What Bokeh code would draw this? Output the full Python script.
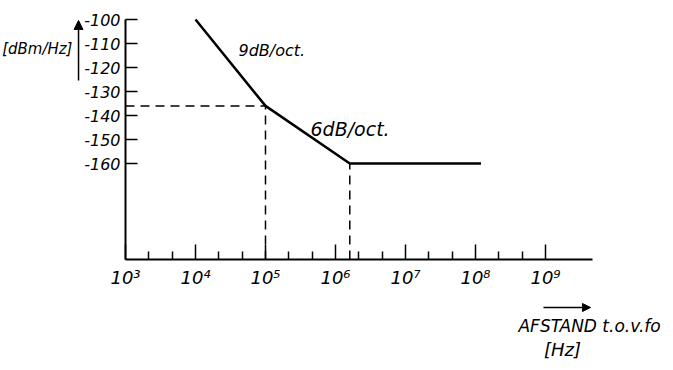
from bokeh.plotting import figure
from bokeh.models import Range1d, FixedTicker, Label, Arrow, NormalHead
from bokeh.embed import file_html
from bokeh.resources import INLINE

# ---- data ----
curve_x = [1.0e4, 1.0e5, 1.6e6, 1.2e8]
curve_y = [-100, -136, -160, -160]
x_major = [1e3, 1e4, 1e5, 1e6, 1e7, 1e8, 1e9]
x_minor = [2.15e3, 4.64e3, 2.15e4, 4.64e4, 2.15e5, 4.64e5, 2.15e6, 4.64e6,
           2.15e7, 4.64e7, 2.15e8, 4.64e8]
x_labels = {1e3: "10³", 1e4: "10⁴", 1e5: "10⁵", 1e6: "10⁶", 1e7: "10⁷", 1e8: "10⁸", 1e9: "10⁹"}
y_ticks = [-160, -150, -140, -130, -120, -110, -100]
y_labels = {-160: "-160", -150: "-150", -140: "-140", -130: "-130",
            -120: "-120", -110: "-110", -100: "-100"}
x_axis_start, x_axis_end = 1e3, 10**9.67
y_bottom, y_top = -200, -100
# dashed guide lines (corner points)
guide_h_x = [x_axis_start, 1.0e5]
guide_h_y = [-136, -136]
guide_v1_x = [1.0e5, 1.0e5]
guide_v1_y = [y_bottom, -136]
guide_v2_x = [1.6e6, 1.6e6]
guide_v2_y = [y_bottom, -160]

FONT = "DejaVu Sans"

# frame spans the whole canvas; axes are placed at fixed data locations
p = figure(width=673, height=370, x_axis_type="log",
           x_range=Range1d(10**1.2143, 10**10.8286), y_range=Range1d(-246.25, -92.083),
           output_backend="svg", toolbar_location=None,
           min_border_left=0, min_border_right=0, min_border_top=0, min_border_bottom=0)
p.grid.visible = False
p.outline_line_color = None
p.background_fill_color = "white"
p.border_fill_color = "white"

xa = p.xaxis[0]
xa.fixed_location = y_bottom
xa.bounds = (x_axis_start, x_axis_end)
xa.ticker = FixedTicker(ticks=x_major, minor_ticks=x_minor)
xa.major_label_overrides = x_labels
xa.axis_line_width = 2
xa.major_tick_in = 15
xa.major_tick_out = 0
xa.minor_tick_in = 8
xa.minor_tick_out = 0
xa.major_tick_line_width = 1.5
xa.minor_tick_line_width = 1.5
xa.major_label_text_font = FONT
xa.major_label_text_font_style = "italic"
xa.major_label_text_font_size = "18px"
xa.major_label_standoff = 7
xa.major_label_text_color = "black"

ya = p.yaxis[0]
ya.fixed_location = x_axis_start
ya.bounds = (y_bottom, y_top)
ya.ticker = FixedTicker(ticks=y_ticks)
ya.major_label_overrides = y_labels
ya.axis_line_width = 2
ya.major_tick_in = 12
ya.major_tick_out = 0
ya.minor_tick_in = 0
ya.minor_tick_out = 0
ya.major_tick_line_width = 1.5
ya.major_label_text_font = FONT
ya.major_label_text_font_style = "italic"
ya.major_label_text_font_size = "16px"
ya.major_label_standoff = 5
ya.major_label_text_color = "black"

# curve
p.line(curve_x, curve_y, line_color="black", line_width=2.5)
# dashed guides
for gx, gy in [(guide_h_x, guide_h_y), (guide_v1_x, guide_v1_y), (guide_v2_x, guide_v2_y)]:
    p.line(gx, gy, line_color="black", line_width=1.5, line_dash="9 6")

def lab(x, y, t, size, align="left"):
    p.add_layout(Label(x=x, y=y, text=t, text_font=FONT, text_font_style="italic",
                       text_font_size=size, text_align=align, text_baseline="middle",
                       text_color="black"))

lab(10**4.614, -112.9, "9dB/oct.", "16px")
lab(10**5.643, -145.8, "6dB/oct.", "19px")
lab(10**1.74, -112.1, "[dBm/Hz]", "15px", "center")
lab(10**8.614, -227.5, "AFSTAND t.o.v.fo", "17px")
lab(10**9.243, -237.5, "[Hz]", "18px", "center")

p.add_layout(Arrow(end=NormalHead(size=9, fill_color="black", line_color="black"),
                   x_start=10**2.329, y_start=-125.4, x_end=10**2.329, y_end=-100.4,
                   line_width=1.5, line_color="black"))
p.add_layout(Arrow(end=NormalHead(size=8, fill_color="black", line_color="black"),
                   x_start=10**8.971, y_start=-220, x_end=10**9.643, y_end=-220,
                   line_width=1.5, line_color="black"))

open("out.html", "w").write(file_html(p, INLINE))
